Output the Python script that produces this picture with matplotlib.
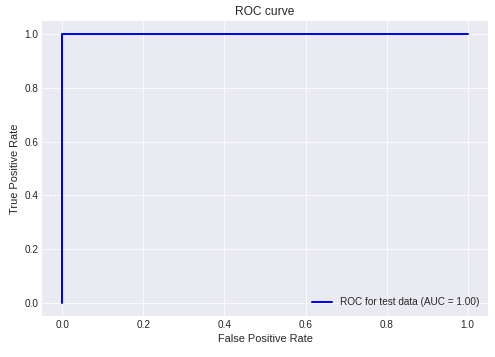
import matplotlib
matplotlib.use("Agg")
import matplotlib.pyplot as plt

plt.style.use('seaborn-v0_8-darkgrid')
plt.rcParams['font.family'] = ['Liberation Sans', 'DejaVu Sans']
plt.rcParams['axes.labelsize'] = 11
plt.rcParams['xtick.labelsize'] = 10
plt.rcParams['ytick.labelsize'] = 10
plt.rcParams['axes.titlesize'] = 12
plt.rcParams['legend.fontsize'] = 10

fpr = [0.0, 0.0, 1.0]
tpr = [0.0, 1.0, 1.0]
auc = 1.00

fig = plt.figure(figsize=(495/72, 357/72), dpi=72)
ax = fig.add_axes([42/495, 1-316/357, 446/495, 295/357])
ax.plot(fpr, tpr, color='blue', lw=2, label='ROC for test data (AUC = %0.2f)' % auc)
ax.set_xlabel('False Positive Rate')
ax.set_ylabel('True Positive Rate')
ax.set_title('ROC curve')
ax.legend(loc='lower right')
fig.savefig('out.png', dpi=72)
